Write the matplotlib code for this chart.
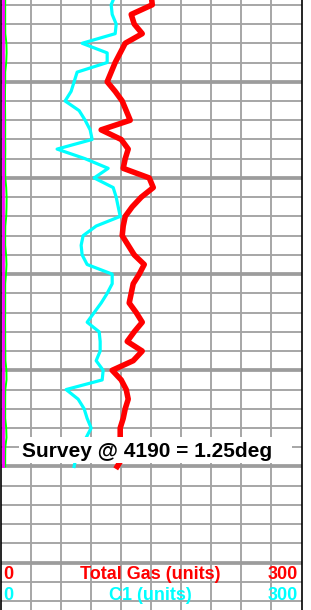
import matplotlib
matplotlib.use("Agg")
import matplotlib.pyplot as plt
import matplotlib.transforms as mtransforms
from matplotlib.patches import Rectangle

depth = list(range(3955, 4205, 5))

total_gas = [150, 151, 130, 133, 141, 124, 119, 114, 110, 106,
             114, 121, 125, 129, 100, 120, 127, 124, 122, 148,
             152, 140, 131, 124, 122, 121, 127, 133, 143, 138,
             132, 130, 128, 135, 141, 133, 126, 141, 132, 111,
             120, 125, 127, 124, 122, 119, 119, 120, 122, 116]

c1 = [114, 110, 111, 115, 114, 81, 106, 106, 76, 73,
      70, 64, 78, 84, 89, 91, 56, 84, 107, 93,
      112, 115, 117, 119, 95, 82, 80, 81, 86, 111,
      111, 106, 100, 93, 86, 98, 99, 99, 95, 102,
      101, 65, 77, 83, 86, 90, 85, 80, 75, 73]

c2 = [2.0] * 50

c3 = [4.2, 4.2, 4.2, 4.2, 4.3, 5.4, 5.6, 5.2, 4.2, 4.2,
      4.0, 4.0, 4.1, 4.2, 4.2, 4.2, 4.3, 4.2, 4.2, 4.3,
      5.2, 5.6, 5.5, 5.2, 4.3, 4.2, 4.2, 5.1, 5.5, 5.0,
      4.2, 4.2, 4.2, 4.2, 4.1, 4.2, 4.2, 4.3, 4.4, 5.4,
      5.5, 4.3, 4.2, 4.2, 4.2, 5.2, 5.5, 4.3, 4.2, 4.2]

survey_depth = 4190
survey_label = "Survey @ 4190 = 1.25deg"

scale_min, scale_max = 0, 300
top_depth, bottom_depth = 3957.5, 4274.6

# ---- figure ----
fig = plt.figure(figsize=(3.11, 6.10), dpi=100)
ax = fig.add_axes([1.0 / 311, 0.0, 300.5 / 311, 1.0])
ax.set_xlim(scale_min, scale_max)
ax.set_ylim(bottom_depth, top_depth)
ax.set_xticks([])
ax.set_yticks([])
for side in ("top", "bottom"):
    ax.spines[side].set_visible(False)
for side in ("left", "right"):
    ax.spines[side].set_color("black")
    ax.spines[side].set_linewidth(1.2)
    ax.spines[side].set_zorder(6)

# grid
grid_col = "#a3a3a3"
for x in range(30, 300, 30):
    ax.axvline(x, color=grid_col, lw=1.35, zorder=1)
for d in range(3960, 4280, 10):
    major = d % 50 == 0
    ax.axhline(d, color="#9c9c9c" if major else grid_col,
               lw=2.7 if major else 1.35, zorder=1)

# curves
ax.plot(c3, depth, color="#00ff00", lw=1.4, zorder=2)
ax.plot(c2, depth, color="#ff00ff", lw=2.0, zorder=3)
ax.plot(c1, depth, color="#00ffff", lw=2.3, zorder=4)
ax.plot(total_gas, depth, color="#ff0000", lw=4.0, zorder=5)

# survey annotation
blend = mtransforms.blended_transform_factory(ax.transData, ax.transData)
ax.add_patch(Rectangle((17.5, 4184.7), 273, 13.3, facecolor="white",
                       edgecolor="none", zorder=7, transform=blend))
ax.text(146, 4195.2, survey_label, ha="center", va="baseline",
        fontsize=15, fontweight="bold", family="Liberation Sans",
        color="black", zorder=8)

# header scales
hdr = dict(fontsize=13, fontweight="bold", family="Liberation Sans", va="baseline", zorder=8)
ax.text(2, 4258.7, str(scale_min), ha="left", color="#ff0000", **hdr)
ax.text(149, 4258.7, "Total Gas (units)", ha="center", color="#ff0000", **hdr)
ax.text(296, 4258.7, str(scale_max), ha="right", color="#ff0000", **hdr)
ax.text(2, 4269.2, str(scale_min), ha="left", color="#00ffff", **hdr)
ax.text(149, 4269.2, "C1 (units)", ha="center", color="#00ffff", **hdr)
ax.text(296, 4269.2, str(scale_max), ha="right", color="#00ffff", **hdr)

fig.savefig("out.png", dpi=100)
